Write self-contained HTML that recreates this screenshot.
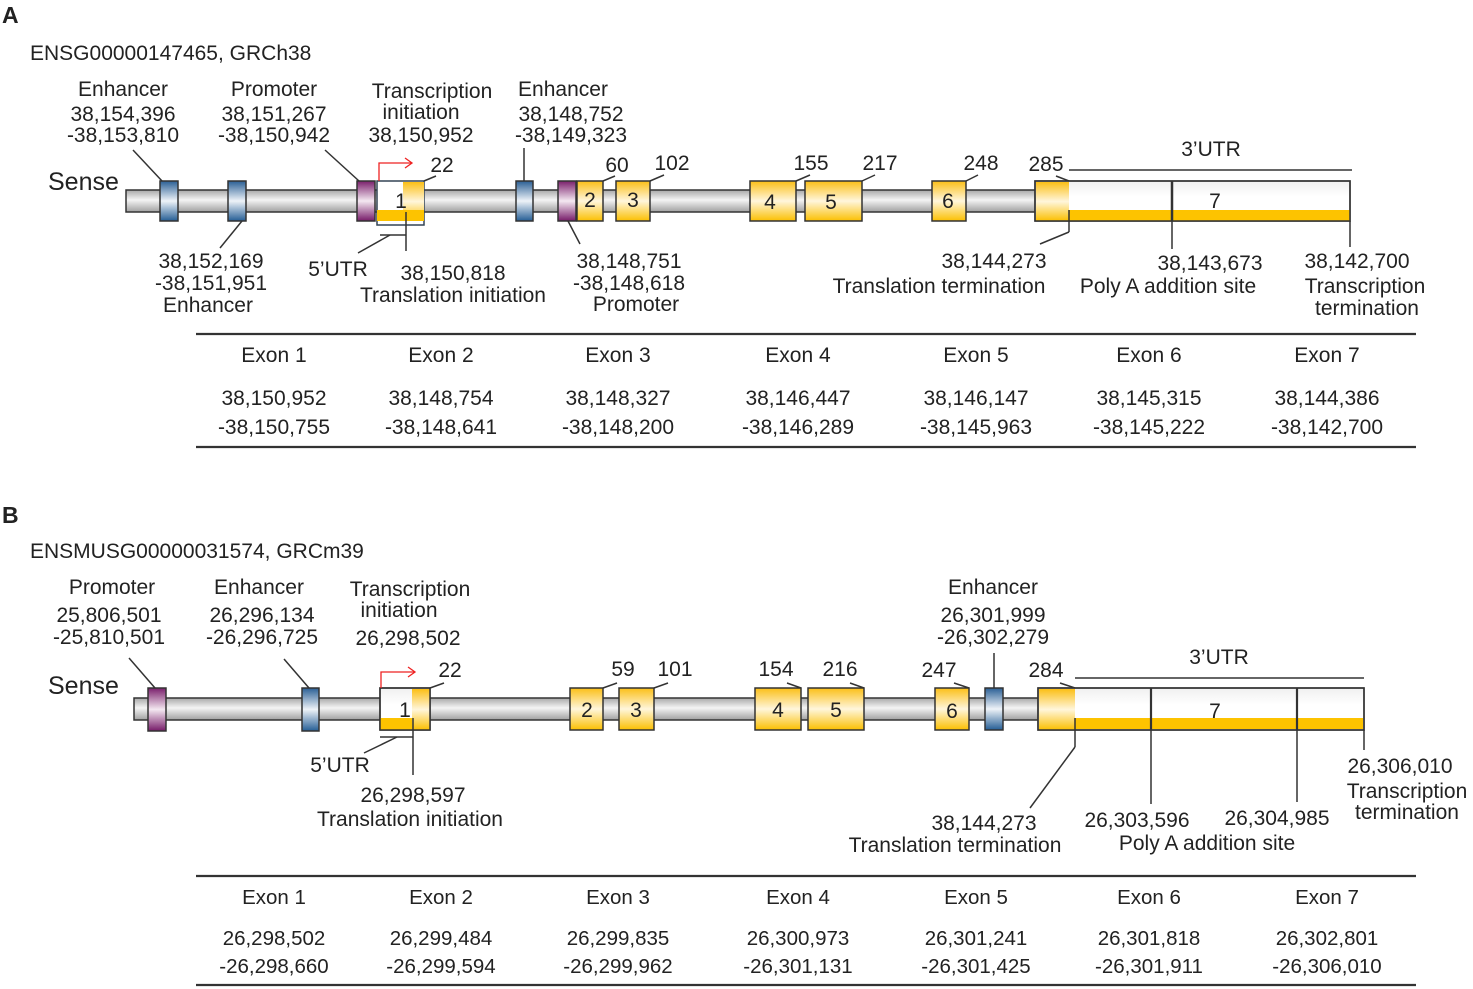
<!DOCTYPE html>
<html><head><meta charset="utf-8"><style>
html,body{margin:0;padding:0;background:#fff;}
svg{display:block;}
text{font-family:"Liberation Sans",Arial,sans-serif;fill:#222;font-size:21px;}
.m{text-anchor:middle;}
.t{font-size:20.5px;}
</style></head><body>
<svg width="1473" height="989" viewBox="0 0 1473 989" xmlns="http://www.w3.org/2000/svg">
<defs>
<linearGradient id="gray" x1="0" y1="0" x2="0" y2="1"><stop offset="0" stop-color="#a8a8a8"/><stop offset="0.45" stop-color="#f4f4f4"/><stop offset="1" stop-color="#a0a0a0"/></linearGradient>
<linearGradient id="or" x1="0" y1="0" x2="0" y2="1"><stop offset="0" stop-color="#fbbf16"/><stop offset="0.5" stop-color="#fff6dc"/><stop offset="1" stop-color="#fbbf00"/></linearGradient>
<linearGradient id="bl" x1="0" y1="0" x2="0" y2="1"><stop offset="0" stop-color="#2a5f95"/><stop offset="0.5" stop-color="#eef3f8"/><stop offset="1" stop-color="#245d95"/></linearGradient>
<linearGradient id="pu" x1="0" y1="0" x2="0" y2="1"><stop offset="0" stop-color="#7a1f6c"/><stop offset="0.5" stop-color="#f4e8f1"/><stop offset="1" stop-color="#761a68"/></linearGradient>
<linearGradient id="wh" x1="0" y1="0" x2="0" y2="1"><stop offset="0" stop-color="#f0f0f0"/><stop offset="0.4" stop-color="#ffffff"/></linearGradient>
</defs>
<g stroke="#333" stroke-width="1.5" fill="none">
<!-- ===== A ===== -->
<rect x="126" y="190" width="912" height="22" fill="url(#gray)"/>
<rect x="160" y="181" width="18" height="40" fill="url(#bl)"/>
<rect x="228" y="181" width="18" height="40" fill="url(#bl)"/>
<rect x="357" y="181" width="18" height="40" fill="url(#pu)"/>
<rect x="377" y="181" width="47" height="44" fill="#fff" stroke="#345"/>
<rect x="403" y="182" width="21" height="39" fill="url(#or)" stroke="none"/>
<rect x="377" y="210" width="47" height="11" fill="#fdc300" stroke="none"/>
<rect x="516" y="181" width="17" height="40" fill="url(#bl)"/>
<rect x="558" y="181" width="18" height="40" fill="url(#pu)"/>
<rect x="577" y="181" width="26" height="40" fill="url(#or)"/>
<rect x="616" y="181" width="34" height="40" fill="url(#or)"/>
<rect x="750" y="181" width="46" height="40" fill="url(#or)"/>
<rect x="805" y="181" width="57" height="40" fill="url(#or)"/>
<rect x="932" y="181" width="34" height="40" fill="url(#or)"/>
<rect x="1035" y="181" width="315" height="40" fill="url(#wh)"/>
<rect x="1069" y="210" width="281" height="11" fill="#fdc300" stroke="none"/>
<rect x="1036" y="182" width="33" height="39" fill="url(#or)" stroke="none"/>
<rect x="1035" y="181" width="315" height="40"/>
<line x1="1172" y1="181" x2="1172" y2="221" stroke-width="2.5"/>
<!-- leaders A -->
<line x1="133" y1="150" x2="162" y2="181"/>
<line x1="325" y1="150" x2="359" y2="181"/>
<line x1="524" y1="148" x2="524" y2="181"/>
<line x1="242" y1="221" x2="220" y2="248"/>
<line x1="568" y1="221" x2="580" y2="244"/>
<line x1="424" y1="181" x2="436" y2="176"/>
<line x1="603" y1="181" x2="615" y2="176"/>
<line x1="650" y1="181" x2="664" y2="175"/>
<line x1="796" y1="181" x2="810" y2="175"/>
<line x1="862" y1="181" x2="875" y2="175"/>
<line x1="966" y1="181" x2="978" y2="175"/>
<line x1="1069" y1="181" x2="1056" y2="176"/>
<line x1="1069" y1="170" x2="1352" y2="170"/>
<line x1="380" y1="235" x2="406" y2="235"/>
<line x1="390" y1="235" x2="358" y2="253"/>
<line x1="406" y1="212" x2="406" y2="251"/>
<line x1="1069" y1="210" x2="1069" y2="232"/>
<line x1="1069" y1="232" x2="1040" y2="244"/>
<line x1="1172" y1="221" x2="1172" y2="249"/>
<line x1="1350" y1="221" x2="1350" y2="247"/>
<polyline points="379,181 379,163 411,163" stroke="#e22" stroke-width="1.3"/>
<polyline points="405,158 412,163 405,168" stroke="#e22" stroke-width="1.3"/>
<line x1="196" y1="334" x2="1416" y2="334" stroke-width="2.2"/>
<line x1="196" y1="447" x2="1416" y2="447" stroke-width="2.2"/>
<!-- ===== B ===== -->
<rect x="134" y="698" width="906" height="22" fill="url(#gray)"/>
<rect x="148" y="688" width="18" height="43" fill="url(#pu)"/>
<rect x="302" y="688" width="17" height="43" fill="url(#bl)"/>
<rect x="380" y="688" width="50" height="42" fill="url(#wh)"/>
<rect x="412" y="689" width="18" height="41" fill="url(#or)" stroke="none"/>
<rect x="380" y="718" width="32" height="12" fill="#fdc300" stroke="none"/>
<rect x="380" y="688" width="50" height="42"/>
<rect x="570" y="688" width="33" height="42" fill="url(#or)"/>
<rect x="619" y="688" width="35" height="42" fill="url(#or)"/>
<rect x="755" y="688" width="46" height="42" fill="url(#or)"/>
<rect x="808" y="688" width="56" height="42" fill="url(#or)"/>
<rect x="935" y="688" width="34" height="42" fill="url(#or)"/>
<rect x="985" y="688" width="18" height="42" fill="url(#bl)"/>
<rect x="1038" y="688" width="326" height="42" fill="url(#wh)"/>
<rect x="1075" y="718" width="288" height="11" fill="#fdc300" stroke="none"/>
<rect x="1039" y="689" width="36" height="41" fill="url(#or)" stroke="none"/>
<rect x="1038" y="688" width="326" height="42"/>
<line x1="1151" y1="688" x2="1151" y2="730" stroke-width="2.2"/>
<line x1="1297" y1="688" x2="1297" y2="730" stroke-width="2.2"/>
<!-- leaders B -->
<line x1="129" y1="658" x2="155" y2="688"/>
<line x1="284" y1="659" x2="309" y2="688"/>
<line x1="994" y1="653" x2="994" y2="688"/>
<line x1="430" y1="688" x2="444" y2="683"/>
<line x1="603" y1="688" x2="617" y2="683"/>
<line x1="654" y1="688" x2="668" y2="683"/>
<line x1="801" y1="688" x2="787" y2="683"/>
<line x1="864" y1="688" x2="850" y2="683"/>
<line x1="969" y1="688" x2="954" y2="683"/>
<line x1="1075" y1="688" x2="1060" y2="683"/>
<line x1="1075" y1="678" x2="1364" y2="678"/>
<line x1="380" y1="737" x2="413" y2="737"/>
<line x1="397" y1="737" x2="364" y2="753"/>
<line x1="413" y1="718" x2="413" y2="775"/>
<line x1="1075" y1="718" x2="1075" y2="747"/>
<line x1="1075" y1="747" x2="1030" y2="808"/>
<line x1="1151" y1="730" x2="1151" y2="804"/>
<line x1="1297" y1="730" x2="1297" y2="802"/>
<line x1="1364" y1="730" x2="1364" y2="750"/>
<polyline points="381,688 381,672 414,672" stroke="#e22" stroke-width="1.3"/>
<polyline points="408,667 415,672 408,677" stroke="#e22" stroke-width="1.3"/>
<line x1="196" y1="876" x2="1416" y2="876" stroke-width="2.2"/>
<line x1="196" y1="985" x2="1416" y2="985" stroke-width="2.2"/>
</g>

<!-- ===== text A ===== -->
<text x="2" y="23" style="font-weight:bold;font-size:23px">A</text>
<text x="30" y="60">ENSG00000147465, GRCh38</text>
<text x="48" y="190" style="font-size:25px">Sense</text>
<g class="m">
<text class="m" x="123" y="96">Enhancer</text><text class="m" x="123" y="121">38,154,396</text><text class="m" x="123" y="142">-38,153,810</text>
<text class="m" x="274" y="96">Promoter</text><text class="m" x="274" y="121">38,151,267</text><text class="m" x="274" y="142">-38,150,942</text>
<text class="m" x="432" y="98">Transcription</text><text class="m" x="421" y="119">initiation</text><text class="m" x="421" y="142">38,150,952</text>
<text class="m" x="563" y="96">Enhancer</text><text class="m" x="571" y="121">38,148,752</text><text class="m" x="571" y="142">-38,149,323</text>
<text class="m" x="442" y="172">22</text><text class="m" x="617" y="172">60</text><text class="m" x="672" y="170">102</text>
<text class="m" x="811" y="170">155</text><text class="m" x="880" y="170">217</text><text class="m" x="981" y="170">248</text><text class="m" x="1046" y="171">285</text>
<text class="m" x="1211" y="156">3’UTR</text>
<text class="m" x="401" y="208">1</text><text class="m" x="590" y="207">2</text><text class="m" x="633" y="207">3</text>
<text class="m" x="770" y="209">4</text><text class="m" x="831" y="209">5</text><text class="m" x="948" y="208">6</text><text class="m" x="1215" y="208">7</text>
<text class="m" x="211" y="268">38,152,169</text><text class="m" x="211" y="290">-38,151,951</text><text class="m" x="208" y="312">Enhancer</text>
<text class="m" x="338" y="276">5’UTR</text>
<text class="m" x="453" y="280">38,150,818</text><text class="m" x="453" y="302">Translation initiation</text>
<text class="m" x="629" y="268">38,148,751</text><text class="m" x="629" y="290">-38,148,618</text><text class="m" x="636" y="311">Promoter</text>
<text class="m" x="994" y="268">38,144,273</text><text class="m" x="939" y="293">Translation termination</text>
<text class="m" x="1210" y="270">38,143,673</text><text class="m" x="1168" y="293">Poly A addition site</text>
<text class="m" x="1357" y="268">38,142,700</text><text class="m" x="1365" y="293">Transcription</text><text class="m" x="1367" y="315">termination</text>
<text class="m" x="274" y="362">Exon 1</text><text class="m" x="441" y="362">Exon 2</text><text class="m" x="618" y="362">Exon 3</text><text class="m" x="798" y="362">Exon 4</text><text class="m" x="976" y="362">Exon 5</text><text class="m" x="1149" y="362">Exon 6</text><text class="m" x="1327" y="362">Exon 7</text>
<text class="m" x="274" y="405">38,150,952</text><text class="m" x="441" y="405">38,148,754</text><text class="m" x="618" y="405">38,148,327</text><text class="m" x="798" y="405">38,146,447</text><text class="m" x="976" y="405">38,146,147</text><text class="m" x="1149" y="405">38,145,315</text><text class="m" x="1327" y="405">38,144,386</text>
<text class="m" x="274" y="434">-38,150,755</text><text class="m" x="441" y="434">-38,148,641</text><text class="m" x="618" y="434">-38,148,200</text><text class="m" x="798" y="434">-38,146,289</text><text class="m" x="976" y="434">-38,145,963</text><text class="m" x="1149" y="434">-38,145,222</text><text class="m" x="1327" y="434">-38,142,700</text>
</g>

<!-- ===== text B ===== -->
<text x="2" y="523" style="font-weight:bold;font-size:23px">B</text>
<text x="30" y="558">ENSMUSG00000031574, GRCm39</text>
<text x="48" y="694" style="font-size:25px">Sense</text>
<g>
<text class="m" x="112" y="594">Promoter</text><text class="m" x="109" y="622">25,806,501</text><text class="m" x="109" y="644">-25,810,501</text>
<text class="m" x="259" y="594">Enhancer</text><text class="m" x="262" y="622">26,296,134</text><text class="m" x="262" y="644">-26,296,725</text>
<text class="m" x="410" y="596">Transcription</text><text class="m" x="399" y="617">initiation</text><text class="m" x="408" y="645">26,298,502</text>
<text class="m" x="993" y="594">Enhancer</text><text class="m" x="993" y="622">26,301,999</text><text class="m" x="993" y="644">-26,302,279</text>
<text class="m" x="450" y="677">22</text><text class="m" x="623" y="676">59</text><text class="m" x="675" y="676">101</text>
<text class="m" x="776" y="676">154</text><text class="m" x="840" y="676">216</text><text class="m" x="939" y="677">247</text><text class="m" x="1046" y="677">284</text>
<text class="m" x="1219" y="664">3’UTR</text>
<text class="m" x="405" y="717">1</text><text class="m" x="587" y="717">2</text><text class="m" x="636" y="717">3</text>
<text class="m" x="778" y="717">4</text><text class="m" x="836" y="717">5</text><text class="m" x="952" y="718">6</text><text class="m" x="1215" y="718">7</text>
<text class="m" x="340" y="772">5’UTR</text>
<text class="m" x="413" y="802">26,298,597</text><text class="m" x="410" y="826">Translation initiation</text>
<text class="m" x="984" y="830">38,144,273</text><text class="m" x="955" y="852">Translation termination</text>
<text class="m" x="1137" y="827">26,303,596</text><text class="m" x="1277" y="825">26,304,985</text><text class="m" x="1207" y="850">Poly A addition site</text>
<text class="m" x="1400" y="773">26,306,010</text><text class="m" x="1407" y="798">Transcription</text><text class="m" x="1407" y="819">termination</text>
<text class="m t" x="274" y="904">Exon 1</text><text class="m t" x="441" y="904">Exon 2</text><text class="m t" x="618" y="904">Exon 3</text><text class="m t" x="798" y="904">Exon 4</text><text class="m t" x="976" y="904">Exon 5</text><text class="m t" x="1149" y="904">Exon 6</text><text class="m t" x="1327" y="904">Exon 7</text>
<text class="m t" x="274" y="945">26,298,502</text><text class="m t" x="441" y="945">26,299,484</text><text class="m t" x="618" y="945">26,299,835</text><text class="m t" x="798" y="945">26,300,973</text><text class="m t" x="976" y="945">26,301,241</text><text class="m t" x="1149" y="945">26,301,818</text><text class="m t" x="1327" y="945">26,302,801</text>
<text class="m t" x="274" y="973">-26,298,660</text><text class="m t" x="441" y="973">-26,299,594</text><text class="m t" x="618" y="973">-26,299,962</text><text class="m t" x="798" y="973">-26,301,131</text><text class="m t" x="976" y="973">-26,301,425</text><text class="m t" x="1149" y="973">-26,301,911</text><text class="m t" x="1327" y="973">-26,306,010</text>
</g>
</svg>
</body></html>
